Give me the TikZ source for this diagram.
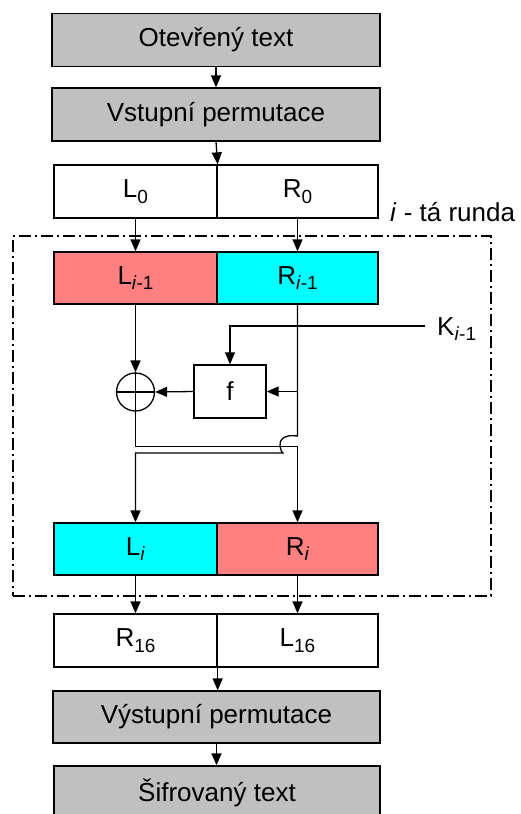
\documentclass[tikz,border=0pt]{standalone}
\usepackage{fontspec}
\setmainfont{Liberation Sans}
\usetikzlibrary{arrows.meta,calc}
\definecolor{graybox}{HTML}{C0C0C0}
\definecolor{salmonbox}{HTML}{FF8080}
\definecolor{cyanbox}{HTML}{00FFFF}
\newcommand\subs[1]{\raisebox{-5.5pt}{\fontsize{19}{19}\selectfont #1}}
\begin{document}
\begin{tikzpicture}[x=1pt,y=-1pt,
  every node/.style={font=\fontsize{26}{30}\selectfont, inner sep=0pt},
  box/.style={draw, line width=1.3pt, minimum height=53pt},
  greybox/.style={box, fill=graybox, minimum width=328pt},
  lefthalf/.style={box, minimum width=163pt},
  righthalf/.style={box, minimum width=161pt},
  arr/.style={-{Triangle[length=12pt,width=10pt]}, line width=1.3pt},
  ln/.style={line width=1.3pt},
  roundframe/.style={draw, line width=1.1pt, dash pattern=on 12pt off 4pt on 2pt off 4pt}]
\useasboundingbox (0,0) rectangle (520,814);
\clip (0,0) rectangle (520,814);

% top
\node[greybox] (ot) at (216,40) {Otevřený text};
\node[greybox] (vp) at (216,114.5) {Vstupní permutace};
\node[lefthalf] (L0) at (135.5,191.5) {L\subs{0}};
\node[righthalf] (R0) at (297.5,191.5) {R\subs{0}};

% round frame
\node[roundframe, minimum width=478pt, minimum height=360pt] (frame) at (252,416) {};
\node[anchor=base west] (lbl) at (390,221) {\textit{i} - tá runda};

% round
\node[lefthalf, fill=salmonbox, minimum height=52pt] (Lim1) at (135.5,278) {L\subs{\textit{i}-1}};
\node[righthalf, fill=cyanbox, minimum height=52pt] (Rim1) at (297.5,278) {R\subs{\textit{i}-1}};
\node[box, minimum width=72pt] (f) at (230,391.5) {f};
\node[draw, line width=1.3pt, circle, minimum size=38pt] (xor) at (135.5,392) {};
\node[anchor=base west] (K) at (437,335) {K\subs{\textit{i}-1}};
\coordinate (kin) at (425,326);

\node[lefthalf, fill=cyanbox, minimum height=52pt] (Li) at (135.5,549) {L\subs{\textit{i}}};
\node[righthalf, fill=salmonbox, minimum height=52pt] (Ri) at (297.5,549) {R\subs{\textit{i}}};

% bottom
\node[lefthalf] (R16) at (135.5,640.5) {R\subs{16}};
\node[righthalf] (L16) at (297.5,640.5) {L\subs{16}};
\node[greybox, minimum width=327pt, minimum height=52pt] (vyp) at (216.5,717) {Výstupní permutace};
\node[greybox, minimum width=326pt, minimum height=54pt] (sif) at (217,793) {Šifrovaný text};

% connectors
\draw[arr] (ot.south) -- (vp.north);
\draw[arr] (vp.south) -- (L0.north east);
\draw[arr] (L0.south) -- (Lim1.north);
\draw[arr] (R0.south) -- (Rim1.north);

\draw[arr] (Lim1.south) -- (xor.north);
\draw[ln] (xor.north) -- (xor.south) (xor.west) -- (xor.east);
\draw[arr] (f.west) -- (xor.east);
\draw[arr] (kin) -| (f.north);
\draw[arr] (Rim1.south |- f.east) -- (f.east);

\draw[arr] (xor.south) -- ++(0,35) -| (Ri.north);
\draw[arr] (Rim1.south) -- (297.5,436)
  .. controls (284,434) and (279,440) .. (280,446)
  .. controls (281,451) and (282,453) .. (283,453)
  -- (135.5,453) -- (Li.north);

\draw[arr] (Li.south) -- (R16.north);
\draw[arr] (Ri.south) -- (L16.north);
\draw[arr] (R16.south east) -- (R16.south east |- vyp.north);
\draw[arr] (vyp.south) -- (vyp.south |- sif.north);
\end{tikzpicture}
\end{document}
